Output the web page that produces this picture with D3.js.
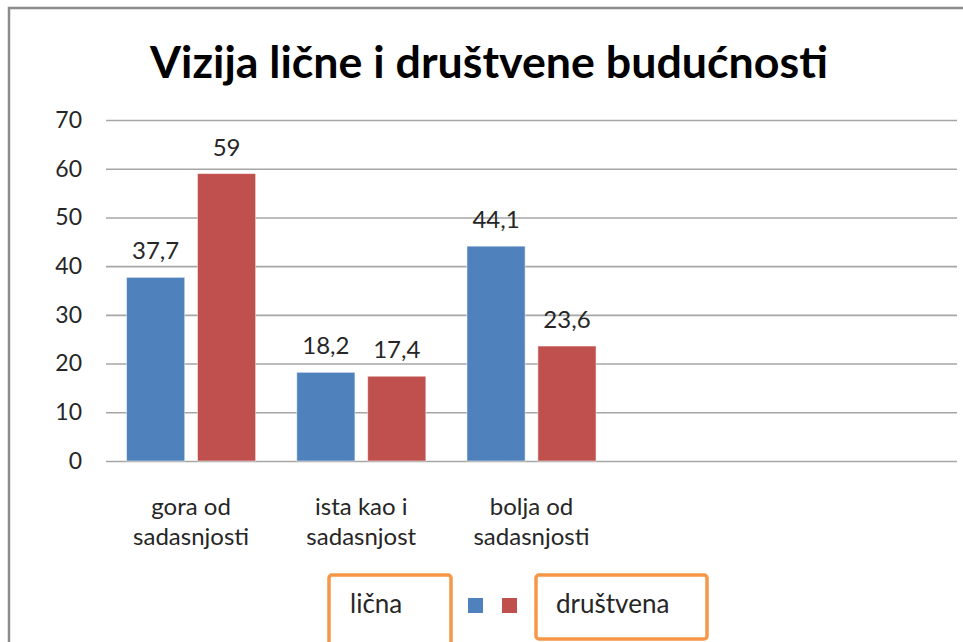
<!DOCTYPE html>
<html>
<head>
<meta charset="utf-8">
<script src="https://cdn.jsdelivr.net/npm/d3@7"></script>
<style>
	body { margin: 0; background: #fff; }
	svg text { font-family: Lato, "Open Sans", sans-serif; fill: #262626; }
</style>
</head>
<body>
<div id="chart"></div>
<script>
	'use strict';

	// chart data
	var categories = [['gora od', 'sadasnjosti'], ['ista kao i', 'sadasnjost'], ['bolja od', 'sadasnjosti']];
	var seriesNames = ['lična', 'društvena'];
	var licnaValues = [37.7, 18.2, 44.1];
	var drustvenaValues = [59, 17.4, 23.6];
	var yTicks = [0, 10, 20, 30, 40, 50, 60, 70];
	var slotCount = 5;
	var colors = ['#4f81bd', '#c0504d'];

	var W = 963, H = 642,
		plot = { left: 106, right: 957, top: 120, bottom: 461 };

	var svg = d3.select('#chart').append('svg')
		.attr('width', W)
		.attr('height', H);

	// outer frame, runs off the right and bottom edge
	svg.append('rect')
		.attr('x', 9).attr('y', 8)
		.attr('width', W + 20).attr('height', H + 20)
		.attr('fill', 'none')
		.attr('stroke', '#8c8c8c')
		.attr('stroke-width', 2.5);

	// title
	var title = svg.append('text')
		.attr('x', 489).attr('y', 78)
		.attr('text-anchor', 'middle')
		.style('font-weight', 'bold')
		.style('font-size', '40px')
		.style('fill', '#000')
		.text('Vizija lične i društvene budućnosti');
	var tw = title.node().getComputedTextLength();
	title.style('font-size', (40 * 678 / tw) + 'px');

	var y = d3.scaleLinear().domain([0, 70]).range([plot.bottom, plot.top]);

	var x0 = d3.scaleBand()
		.domain(d3.range(slotCount))
		.range([plot.left, plot.right])
		.padding(0);

	var x1 = d3.scaleBand()
		.domain(seriesNames)
		.range([0, x0.bandwidth()])
		.paddingInner(0.18)
		.paddingOuter(0.29);

	// gridlines + y labels
	var yAxis = svg.append('g')
		.attr('transform', 'translate(' + plot.left + ',0)')
		.call(d3.axisLeft(y)
			.tickValues(yTicks)
			.tickSize(-(plot.right - plot.left))
			.tickPadding(24));
	yAxis.select('.domain').remove();
	yAxis.selectAll('line')
		.attr('stroke', '#a6a6a6')
		.attr('stroke-width', 1.6);
	yAxis.selectAll('text')
		.style('font-size', '23px')
		.style('font-family', 'Lato, "Open Sans", sans-serif')
		.attr('fill', '#262626');

	var rows = categories.map(function (c, i) {
		return { idx: i, label: c, values: [licnaValues[i], drustvenaValues[i]] };
	});

	var groups = svg.selectAll('.grp')
		.data(rows)
		.enter().append('g')
		.attr('class', 'grp')
		.attr('transform', function (d) { return 'translate(' + x0(d.idx) + ',0)'; });

	var bars = groups.selectAll('.bar')
		.data(function (d) {
			return d.values.map(function (v, k) { return { name: seriesNames[k], value: v, k: k }; });
		})
		.enter();

	bars.append('rect')
		.attr('x', function (d) { return x1(d.name); })
		.attr('y', function (d) { return y(d.value); })
		.attr('width', x1.bandwidth())
		.attr('height', function (d) { return y(0) - y(d.value); })
		.attr('fill', function (d) { return colors[d.k]; })
		.attr('stroke', '#fff')
		.attr('stroke-opacity', 0.5)
		.attr('stroke-width', 1);

	bars.append('text')
		.attr('x', function (d) { return x1(d.name) + x1.bandwidth() / 2; })
		.attr('y', function (d) { return y(d.value) - 18; })
		.attr('text-anchor', 'middle')
		.style('font-size', '24px')
		.text(function (d) { return String(d.value).replace('.', ','); });

	// category labels
	groups.each(function (d) {
		var t = d3.select(this).append('text')
			.attr('text-anchor', 'middle')
			.style('font-size', '24px');
		d.label.forEach(function (line, i) {
			t.append('tspan')
				.attr('x', x0.bandwidth() / 2)
				.attr('y', 515 + i * 30)
				.text(line);
		});
	});

	// legend (boxes around names, markers between)
	var legend = svg.append('g');
	legend.append('rect')
		.attr('x', 329).attr('y', 575).attr('width', 122).attr('height', 100)
		.attr('rx', 3)
		.attr('fill', 'none').attr('stroke', '#f79646').attr('stroke-width', 3.5);
	legend.append('rect')
		.attr('x', 536).attr('y', 575).attr('width', 171).attr('height', 64)
		.attr('rx', 3)
		.attr('fill', 'none').attr('stroke', '#f79646').attr('stroke-width', 3.5);

	legend.selectAll('.swatch')
		.data(seriesNames)
		.enter().append('rect')
		.attr('x', function (d, i) { return 468 + i * 34; })
		.attr('y', 598)
		.attr('width', 15).attr('height', 15)
		.attr('fill', function (d, i) { return colors[i]; });

	legend.selectAll('.lbl')
		.data(seriesNames)
		.enter().append('text')
		.attr('x', function (d, i) { return i === 0 ? 350 : 556; })
		.attr('y', 613)
		.style('font-size', '26px')
		.text(function (d) { return d; });
</script>
</body>
</html>
